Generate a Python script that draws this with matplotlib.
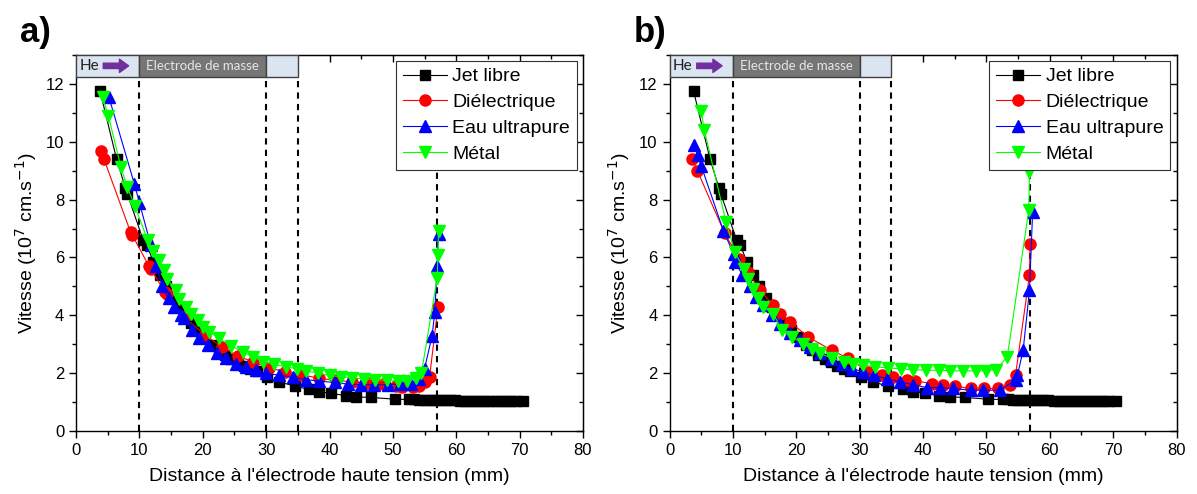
import matplotlib
matplotlib.use('Agg')
import matplotlib.pyplot as plt
from matplotlib.ticker import MultipleLocator, FixedLocator, NullFormatter
from matplotlib.patches import Rectangle

plt.rcParams['font.family'] = ['Liberation Sans', 'DejaVu Sans']

# ---------------- data ----------------
series_names = ["Jet libre", "Diélectrique", "Eau ultrapure", "Métal"]
dashed_positions = [10, 30, 35, 56.9]

# Jet libre (same in both panels)
jet_x = [3.8, 6.4, 7.8, 8.1, 10.6, 11.2, 12.2, 13.2, 14.2, 15.2, 16.2, 17.2, 18.2, 19.2,
         20.2, 21.5, 22.5, 23.5, 24.5, 25.5, 26.5, 27.5, 28.5, 30.2, 32.1, 34.5, 36.8,
         38.4, 40.3, 42.6, 44.2, 46.6, 50.3, 52.6, 53.4, 54.2, 55.0, 55.8, 56.6, 57.4,
         58.2, 59.0, 59.8, 60.6, 61.4, 62.2, 63.0, 63.8, 64.6, 65.4, 66.2, 67.0, 67.8,
         68.6, 69.4, 70.5]
jet_y = [11.75, 9.4, 8.4, 8.2, 6.6, 6.42, 5.85, 5.4, 5.0, 4.6, 4.3, 4.0, 3.72, 3.48,
         3.25, 2.97, 2.8, 2.64, 2.5, 2.38, 2.26, 2.16, 2.06, 1.87, 1.70, 1.55, 1.44,
         1.36, 1.30, 1.22, 1.18, 1.16, 1.10, 1.09, 1.09, 1.08, 1.08, 1.07, 1.07, 1.07,
         1.06, 1.06, 1.06, 1.05, 1.05, 1.05, 1.05, 1.04, 1.04, 1.04, 1.04, 1.03, 1.03,
         1.03, 1.03, 1.02]

# Panel a
a_diel_x = [4.0, 4.4, 8.6, 8.9, 11.5, 11.8, 14.0, 14.4, 17.0, 20.3, 23.1, 25.5, 28.0,
            30.5, 33.0, 35.5, 38.4, 41.0, 43.5, 46.0, 48.5, 50.5, 51.5, 53.2, 54.2, 55.0,
            55.8, 57.1]
a_diel_y = [9.68, 9.41, 6.88, 6.77, 5.7, 5.6, 4.82, 4.72, 3.95, 3.33, 2.9, 2.6, 2.38,
            2.18, 2.05, 1.95, 1.82, 1.75, 1.7, 1.66, 1.62, 1.55, 1.52, 1.52, 1.56, 1.68,
            1.88, 4.27]
a_eau_x = [5.2, 9.2, 10.0, 11.8, 12.7, 13.6, 14.6, 15.5, 16.5, 17.1, 18.3, 19.4, 20.8,
           22.3, 23.7, 25.2, 26.8, 28.4, 30.0, 32.1, 34.2, 36.3, 38.4, 40.8, 42.9, 45.0,
           47.1, 49.2, 51.1, 52.9, 54.2, 55.0, 56.2, 56.6, 57.0, 57.2]
a_eau_y = [11.54, 8.55, 7.9, 6.42, 5.7, 5.0, 4.6, 4.3, 4.0, 3.89, 3.5, 3.2, 2.97, 2.68,
           2.51, 2.33, 2.2, 2.1, 1.99, 1.93, 1.85, 1.78, 1.72, 1.68, 1.62, 1.6, 1.6, 1.6,
           1.62, 1.64, 1.8, 2.16, 3.3, 4.1, 5.7, 6.8]
a_metal_x = [4.2, 5.1, 7.1, 8.1, 9.3, 11.3, 12.1, 13.1, 13.9, 14.4, 15.8, 16.3, 17.3,
             18.2, 19.2, 20.1, 21.0, 22.6, 24.4, 26.3, 28.0, 29.5, 31.3, 33.2, 34.8, 36.3,
             38.2, 40.0, 41.8, 43.6, 45.4, 47.2, 49.0, 50.8, 52.2, 53.7, 54.5, 57.0, 57.1,
             57.2]
a_metal_y = [11.54, 10.9, 9.12, 8.43, 7.77, 6.6, 6.24, 5.9, 5.55, 5.27, 4.87, 4.58, 4.3,
             4.05, 3.85, 3.6, 3.43, 3.2, 2.95, 2.74, 2.55, 2.4, 2.3, 2.22, 2.15, 2.08,
             2.0, 1.92, 1.88, 1.84, 1.8, 1.78, 1.75, 1.73, 1.72, 1.82, 2.0, 5.3, 6.1, 6.9]

# Panel b
b_diel_x = [3.6, 4.4, 8.7, 11.0, 12.4, 14.3, 16.4, 17.5, 19.0, 21.9, 25.6, 28.2, 31.4,
            33.5, 35.3, 37.4, 38.8, 41.4, 43.2, 45.1, 47.5, 49.6, 51.9, 53.8, 54.6, 56.8,
            56.9]
b_diel_y = [9.4, 9.0, 6.84, 5.95, 5.5, 4.86, 4.34, 4.05, 3.77, 3.25, 2.79, 2.51, 2.05,
            1.95, 1.87, 1.76, 1.73, 1.64, 1.59, 1.55, 1.47, 1.47, 1.47, 1.6, 1.93, 5.38,
            6.45]
b_eau_x = [3.9, 4.45, 5.0, 8.5, 10.1, 10.35, 11.5, 12.7, 13.7, 14.8, 16.2, 17.5, 19.0,
           20.6, 22.2, 23.8, 25.5, 27.2, 28.8, 30.5, 32.2, 34.3, 36.4, 38.5, 40.6, 42.7,
           44.8, 47.5, 49.5, 52.1, 54.6, 54.9, 55.8, 56.8, 57.3]
b_eau_y = [9.89, 9.54, 9.17, 6.93, 6.13, 5.84, 5.4, 5.03, 4.65, 4.34, 4.0, 3.71, 3.4,
           3.14, 2.9, 2.68, 2.5, 2.32, 2.16, 2.05, 1.93, 1.8, 1.7, 1.6, 1.5, 1.5, 1.47,
           1.41, 1.41, 1.41, 1.76, 1.93, 2.79, 4.86, 7.57]
b_metal_x = [5.0, 5.5, 8.9, 10.35, 11.7, 12.4, 13.2, 14.0, 14.8, 16.4, 17.7, 19.3, 21.1,
             22.5, 23.8, 25.6, 27.5, 29.0, 30.6, 32.5, 34.5, 36.5, 38.5, 40.5, 42.5, 44.3,
             46.3, 48.3, 50.0, 51.5, 53.3, 56.7, 56.8]
b_metal_y = [11.07, 10.4, 7.24, 6.18, 5.61, 5.27, 4.92, 4.6, 4.29, 4.06, 3.48, 3.25,
             3.02, 2.85, 2.68, 2.52, 2.39, 2.32, 2.28, 2.22, 2.18, 2.15, 2.12, 2.1, 2.1,
             2.08, 2.08, 2.08, 2.08, 2.12, 2.56, 7.65, 8.95]

panels = {
    "a)": [(jet_x, jet_y), (a_diel_x, a_diel_y), (a_eau_x, a_eau_y), (a_metal_x, a_metal_y)],
    "b)": [(jet_x, jet_y), (b_diel_x, b_diel_y), (b_eau_x, b_eau_y), (b_metal_x, b_metal_y)],
}

colors = ["#000000", "#ff0000", "#0000ff", "#00ff00"]
markers = ["s", "o", "^", "v"]
msizes = [7, 8, 8, 8]

# ---------------- figure ----------------
W, H = 1197, 494
fig = plt.figure(figsize=(W / 100, H / 100), dpi=100)
lefts = [76, 669.5]
label_x = [20, 634]

for (tag, data), left, lx in zip(panels.items(), lefts, label_x):
    ax = fig.add_axes([left / W, 63 / H, 507 / W, 376 / H])
    ax.set_xlim(0, 80)
    ax.set_ylim(0, 13)

    # banner
    ybot, ytop = 12.25, 13.0
    ymid = (ybot + ytop) / 2
    ax.add_patch(Rectangle((0, ybot), 10, ytop - ybot, facecolor="#dbe5f1",
                           edgecolor="#404040", lw=1.0, zorder=5))
    ax.add_patch(Rectangle((10, ybot), 20, ytop - ybot, facecolor="#767676",
                           edgecolor="#404040", lw=1.0, zorder=5))
    ax.add_patch(Rectangle((30, ybot), 5, ytop - ybot, facecolor="#dbe5f1",
                           edgecolor="#404040", lw=1.0, zorder=5))
    ax.text(20, ymid, "Electrode de masse", color="#e6e6e6",
            fontsize=9.5, family="Lato", ha="center", va="center", zorder=6)
    ax.text(0.5, ymid, "He", color="#202020", fontsize=11,
            family="Lato", ha="left", va="center", zorder=6)
    ax.annotate("", xy=(8.3, ymid), xytext=(4.3, ymid),
                arrowprops=dict(arrowstyle="simple,head_width=0.8,head_length=0.55,tail_width=0.32",
                                color="#7030a0", mutation_scale=12, shrinkA=0, shrinkB=0),
                zorder=6)

    for xv in dashed_positions:
        ax.plot([xv, xv], [0, ybot], color="black", lw=1.5, dashes=(3, 2.5), zorder=1)

    for (xs, ys), c, m, ms, name in zip(data, colors, markers, msizes, series_names):
        ax.plot(xs, ys, color=c, lw=0.8, marker=m, markersize=ms,
                markerfacecolor=c, markeredgecolor=c, label=name, zorder=3)

    ax.xaxis.set_major_locator(MultipleLocator(10))
    ax.xaxis.set_minor_locator(MultipleLocator(5))
    ax.yaxis.set_major_locator(MultipleLocator(2))
    ax.yaxis.set_minor_locator(MultipleLocator(1))
    ax.tick_params(which="major", direction="out", length=5, width=1, labelsize=12,
                   colors="black")
    ax.tick_params(which="minor", direction="out", length=3, width=1)
    for sp in ax.spines.values():
        sp.set_linewidth(1.0)

    # top / right inward ticks
    secx = ax.secondary_xaxis("top")
    secx.xaxis.set_major_locator(FixedLocator([40, 50, 60, 70]))
    secx.xaxis.set_minor_locator(FixedLocator([45, 55, 65, 75]))
    secx.xaxis.set_major_formatter(NullFormatter())
    secx.tick_params(which="major", direction="in", length=5, width=1)
    secx.tick_params(which="minor", direction="in", length=3, width=1)
    secy = ax.secondary_yaxis("right")
    secy.yaxis.set_major_locator(MultipleLocator(2))
    secy.yaxis.set_minor_locator(MultipleLocator(1))
    secy.yaxis.set_major_formatter(NullFormatter())
    secy.tick_params(which="major", direction="in", length=5, width=1)
    secy.tick_params(which="minor", direction="in", length=3, width=1)

    ax.set_xlabel("Distance à l'électrode haute tension (mm)", fontsize=14, labelpad=7)
    ax.set_ylabel("Vitesse (10$^7$ cm.s$^{-1}$)", fontsize=14, labelpad=5)

    leg = ax.legend(loc="upper right", bbox_to_anchor=(0.988, 0.984), borderaxespad=0,
                    fontsize=14, numpoints=1, handlelength=2.25, handletextpad=0.3,
                    labelspacing=0.42, borderpad=0.35, fancybox=False, framealpha=1,
                    edgecolor="#303030")
    leg.get_frame().set_linewidth(0.8)
    leg.set_zorder(7)

    fig.text(lx / W, 1 - 42 / H, tag, fontsize=25, fontweight="bold", ha="left",
             va="baseline")

fig.savefig("out.png", dpi=100)
